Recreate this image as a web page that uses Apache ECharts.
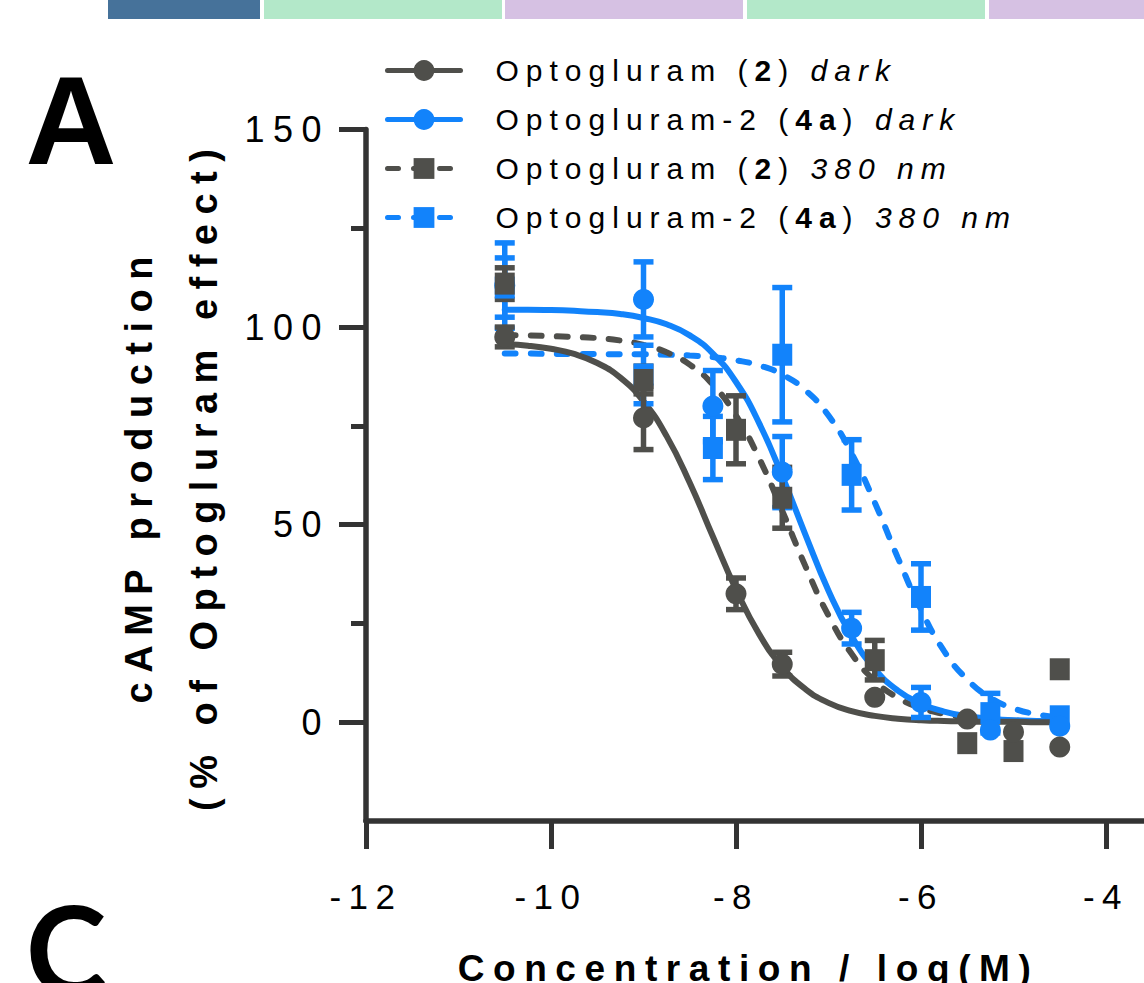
<!DOCTYPE html>
<html>
<head>
<meta charset="utf-8">
<script src="https://cdn.jsdelivr.net/npm/echarts@6/dist/echarts.min.js"></script>
<style>
  html, body { margin: 0; padding: 0; background: #fff; }
  #chart { width: 1144px; height: 983px; }
  /* the figure uses wide letter spacing; keyed on font size */
  #chart text[style*="30px"] { letter-spacing: 7px; }
  #chart text[style*="35px"] { letter-spacing: 7.5px; }
  #chart text[style*="36px"] { letter-spacing: 8.5px; }
  #chart text[style*="37px"] { letter-spacing: 8.6px; }
  #chart text[style*="38px"] { letter-spacing: 9.5px; }
</style>
</head>
<body>
<div id="chart"></div>
<script>
// letter spacing per font size, must match the css above
const spacing = { 30: 7, 35: 7.5, 36: 8.5, 37: 8.6, 38: 9.5 };

// measured points
const conc2 = [-10.5, -9, -8, -7.5, -6.5, -5.5, -5, -4.5];
const conc4a = [-10.5, -9, -8.25, -7.5, -6.75, -6, -5.25, -4.5];

const opto2Dark = [97.5, 77, 32.5, 14.7, 6.3, 0.8, -2.5, -6.3];
const opto2DarkErr = [2.5, 8, 4, 3, 0, 0, 0, 0];
const opto4aDark = [110.5, 107, 80, 63.3, 23.8, 5, -2, -1];
const opto4aDarkErr = [10.8, 9.5, 9, 9, 4, 3.8, 0, 0];
const opto2Uv = [111, 86.6, 74, 56.8, 15.7, -5.3, -7.3, 13.4];
const opto2UvErr = [4, 3.5, 8.6, 7.7, 5, 0, 0, 0];
const opto4aUv = [110, 88, 69.4, 93, 62.6, 31.7, 2.3, 1.5];
const opto4aUvErr = [7.5, 7.4, 8, 17, 8.9, 8.4, 5, 0];

// fitted curves
const fitConc = [-10.5, -10.25, -10, -9.75, -9.5, -9.25, -9, -8.75, -8.5, -8.25, -8, -7.75, -7.5,
  -7.25, -7, -6.75, -6.5, -6.25, -6, -5.75, -5.5, -5.25, -5, -4.75, -4.5];
const fit2Dark = [95.7, 95.3, 94.5, 93.2, 90.9, 87.2, 81.2, 72.4, 60.6, 47.0, 33.6, 22.3, 14.0,
  8.4, 4.9, 2.8, 1.6, 0.9, 0.5, 0.3, 0.2, 0.1, 0.1, 0, 0];
const fit4aDark = [104.4, 104.4, 104.3, 104.1, 103.8, 103.3, 102.3, 100.7, 97.9, 93.3, 86.1, 75.7, 62.3,
  47.5, 33.3, 21.8, 13.5, 8.0, 4.7, 2.7, 1.5, 0.9, 0.5, 0.3, 0.2];
const fit2Uv = [97.9, 97.9, 97.7, 97.5, 97.2, 96.6, 95.5, 93.6, 90.5, 85.4, 77.6, 66.8, 53.5,
  39.5, 27.0, 17.3, 10.5, 6.2, 3.6, 2.1, 1.2, 0.7, 0.4, 0.2, 0.1];
const fit4aUv = [93.3, 93.3, 93.2, 93.2, 93.2, 93.1, 93.1, 93.0, 92.8, 92.4, 91.6, 90.3, 88.0,
  84.0, 77.6, 68.0, 55.6, 41.6, 28.5, 18.0, 10.8, 6.2, 3.5, 2.0, 1.1];

const legendNames = ['Optogluram (2) dark', 'Optogluram-2 (4a) dark', 'Optogluram (2) 380 nm', 'Optogluram-2 (4a) 380 nm'];
const legendLabels = [
  '{n|Optogluram (}{b|2}{n|) }{i|dark}',
  '{n|Optogluram-2 (}{b|4a}{n|) }{i|dark}',
  '{n|Optogluram (}{b|2}{n|) }{i|380 nm}',
  '{n|Optogluram-2 (}{b|4a}{n|) }{i|380 nm}'
];
const xTicks = [-12, -10, -8, -6, -4];
const yTicks = [0, 50, 100, 150];
const yMinorTicks = [25, 75, 125];

const grey = '#4f4f4b';
const blue = '#1283fb';
const axisColor = '#333333';
const font = "'Liberation Sans', Arial, sans-serif";

// widths have to include the letter spacing so rich text and alignment stay right
const measureCtx = document.createElement('canvas').getContext('2d');
if (echarts.setPlatformAPI) {
  echarts.setPlatformAPI({
    measureText: (text, f) => {
      measureCtx.font = f;
      const m = /(\d+)px/.exec(f);
      const ls = m ? (spacing[m[1]] || 0) : 0;
      return { width: measureCtx.measureText(text).width + ls * String(text).length };
    }
  });
}

const pairs = (xs, ys) => xs.map((x, i) => [x, ys[i]]);

function fitLine(name, ys, color, dashed) {
  return {
    type: 'line', name: name, z: 2, silent: true,
    data: pairs(fitConc, ys),
    symbol: dashed ? 'rect' : 'circle',
    showSymbol: false,
    smooth: true,
    itemStyle: { color: color },
    lineStyle: { color: color, width: 6, type: dashed ? [11, 15] : 'solid', cap: 'round' }
  };
}

function errorBars(name, xs, ys, errs, color) {
  return {
    type: 'custom', name: name, z: 3, silent: true,
    data: xs.map((x, i) => [x, ys[i], errs[i]]),
    encode: { x: 0, y: 1 },
    renderItem: (params, api) => {
      const x = api.value(0), y = api.value(1), e = api.value(2);
      if (!e) return null;
      const hi = api.coord([x, y + e]);
      const lo = api.coord([x, y - e]);
      const w = 10;
      const st = { stroke: color, lineWidth: 5.5 };
      return {
        type: 'group',
        children: [
          { type: 'line', shape: { x1: hi[0], y1: hi[1], x2: lo[0], y2: lo[1] }, style: st },
          { type: 'line', shape: { x1: hi[0] - w, y1: hi[1], x2: hi[0] + w, y2: hi[1] }, style: st },
          { type: 'line', shape: { x1: lo[0] - w, y1: lo[1], x2: lo[0] + w, y2: lo[1] }, style: st }
        ]
      };
    }
  };
}

function points(name, xs, ys, color, square) {
  return {
    type: 'scatter', name: name, z: 4, silent: true,
    data: pairs(xs, ys),
    symbol: square ? 'rect' : 'circle',
    symbolSize: square ? [20, 22] : 21,
    itemStyle: { color: color, opacity: 1 }
  };
}

var chartDom = document.getElementById('chart');
var myChart = echarts.init(chartDom, null, { renderer: 'svg' });

var option = {
  animation: false,
  backgroundColor: '#ffffff',
  textStyle: { fontFamily: font },
  grid: { left: 366, right: 1, top: 129.5, bottom: 162, containLabel: false, outerBoundsMode: 'none' },
  legend: {
    data: legendNames,
    orient: 'vertical',
    left: 380,
    top: 47,
    itemWidth: 73,
    itemHeight: 26,
    itemGap: 12,
    selectedMode: false,
    formatter: name => legendLabels[legendNames.indexOf(name)],
    lineStyle: { width: 5 },
    textStyle: {
      padding: [0, 0, 0, 30],
      rich: {
        n: { fontSize: 30, fontFamily: font, color: '#000', lineHeight: 30 },
        b: { fontSize: 30, fontFamily: font, color: '#000', fontWeight: 'bold', lineHeight: 30 },
        i: { fontSize: 30, fontFamily: font, color: '#000', fontStyle: 'italic', lineHeight: 30 }
      }
    }
  },
  xAxis: {
    type: 'value',
    min: -12,
    max: -3.6,
    splitLine: { show: false },
    axisLine: { show: true, onZero: false, lineStyle: { color: axisColor, width: 5.5 } },
    axisTick: { show: true, customValues: xTicks, length: 28, lineStyle: { color: axisColor, width: 5 } },
    axisLabel: { customValues: xTicks, margin: 54, color: '#000', fontSize: 35, fontFamily: font },
    name: 'Concentration / log(M)',
    nameLocation: 'middle',
    nameGap: 125,
    nameMoveOverlap: false,
    nameTextStyle: { fontSize: 37, fontWeight: 'bold', color: '#000', fontFamily: font, padding: [0, 12, 0, 0] }
  },
  yAxis: [
    {
      type: 'value',
      min: -25,
      max: 150,
      splitLine: { show: false },
      axisLine: { show: true, onZero: false, lineStyle: { color: axisColor, width: 5.5 } },
      axisTick: { show: true, customValues: yTicks, length: 27, lineStyle: { color: axisColor, width: 5 } },
      axisLabel: { customValues: yTicks, margin: 36, color: '#000', fontSize: 36, fontFamily: font },
      name: 'cAMP production\n(% of Optogluram effect)',
      nameLocation: 'middle',
      nameGap: 130,
      nameMoveOverlap: false,
      nameTextStyle: { fontSize: 38, fontWeight: 'bold', color: '#000', fontFamily: font, lineHeight: 65 }
    },
    {
      // minor ticks only
      type: 'value',
      min: -25,
      max: 150,
      position: 'left',
      splitLine: { show: false },
      axisLine: { show: false },
      axisTick: { show: true, customValues: yMinorTicks, length: 15, lineStyle: { color: axisColor, width: 5 } },
      axisLabel: { show: false }
    }
  ],
  graphic: [
    { type: 'rect', shape: { x: 108, y: 0, width: 152, height: 19 }, style: { fill: '#46729a' } },
    { type: 'rect', shape: { x: 264, y: 0, width: 238, height: 19 }, style: { fill: '#b3e8c9' } },
    { type: 'rect', shape: { x: 505, y: 0, width: 238, height: 19 }, style: { fill: '#d6c1e3' } },
    { type: 'rect', shape: { x: 747, y: 0, width: 238, height: 19 }, style: { fill: '#b3e8c9' } },
    { type: 'rect', shape: { x: 989, y: 0, width: 155, height: 19 }, style: { fill: '#d6c1e3' } },
    {
      type: 'text', x: 71, y: 120,
      style: { text: 'A', font: "bold 126px 'Liberation Sans', Arial, sans-serif", fill: '#000', align: 'center', verticalAlign: 'middle' }
    },
    {
      type: 'text', x: 66, y: 948,
      style: { text: 'C', font: "bold 122px Lato, 'Open Sans', sans-serif", fill: '#000', align: 'center', verticalAlign: 'middle' }
    }
  ],
  series: [
    fitLine(legendNames[3], fit4aUv, blue, true),
    fitLine(legendNames[2], fit2Uv, grey, true),
    fitLine(legendNames[1], fit4aDark, blue, false),
    fitLine(legendNames[0], fit2Dark, grey, false),
    errorBars('err 4a 380', conc4a, opto4aUv, opto4aUvErr, blue),
    errorBars('err 4a dark', conc4a, opto4aDark, opto4aDarkErr, blue),
    errorBars('err 2 380', conc2, opto2Uv, opto2UvErr, grey),
    errorBars('err 2 dark', conc2, opto2Dark, opto2DarkErr, grey),
    points('pts 4a 380', conc4a, opto4aUv, blue, true),
    points('pts 4a dark', conc4a, opto4aDark, blue, false),
    points('pts 2 380', conc2, opto2Uv, grey, true),
    points('pts 2 dark', conc2, opto2Dark, grey, false)
  ]
};

myChart.setOption(option);
</script>
</body>
</html>
